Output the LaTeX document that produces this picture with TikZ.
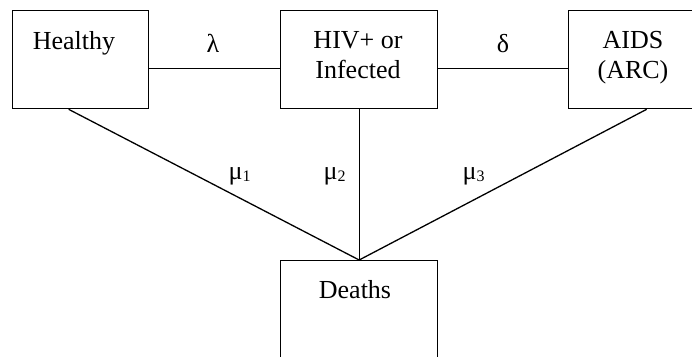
\documentclass[tikz,border=0pt]{standalone}
\usepackage{fontspec}
\setmainfont{Liberation Serif}
\newcommand{\musub}[1]{μ\raisebox{-2pt}{\fontsize{16}{16}\selectfont #1}}
\begin{document}
\begin{tikzpicture}[x=1pt,y=-1pt, line width=1.3pt,
  box/.style={draw, rectangle, inner sep=0pt, anchor=north west},
  txt/.style={font=\fontsize{26}{30}\selectfont, inner sep=0pt, anchor=base},
  lab/.style={font=\fontsize{26}{30}\selectfont, inner sep=0pt, anchor=base west}]
\useasboundingbox (0,0) rectangle (692,356);
\clip (0,0) rectangle (692,356);
% boxes
\node[box, minimum width=136pt, minimum height=98pt] (h) at (12,10) {};
\node[box, minimum width=157pt, minimum height=98pt] (i) at (280,10) {};
\node[box, minimum width=132pt, minimum height=98pt] (a) at (568,10) {};
\node[box, minimum width=157pt, minimum height=100pt] (d) at (280,260) {};
% texts
\node[txt] (th) at (74,49) {Healthy};
\node[txt] (ti1) at (358,48) {HIV+ or};
\node[txt] (ti2) at (358,78) {Infected};
\node[txt] (ta1) at (633,48) {AIDS};
\node[txt] (ta2) at (633,78) {(ARC)};
\node[txt] (td) at (355,298) {Deaths};
% connectors
\draw ([yshift=-9pt]h.east) -- ([yshift=-9pt]i.west);
\draw ([yshift=-9pt]i.east) -- ([yshift=-9pt]a.west);
\draw ([xshift=-12pt]h.south) -- (d.north);
\draw (i.south) -- (d.north);
\draw ([xshift=12pt]a.south) -- (d.north);
% labels
\node[txt] (lam) at (213,52) {λ};
\node[txt] (del) at (503,52) {δ};
\node[lab] (m1) at (228,179) {\musub{1}};
\node[lab] (m2) at (323,179) {\musub{2}};
\node[lab] (m3) at (462,179) {\musub{3}};
\end{tikzpicture}
\end{document}
